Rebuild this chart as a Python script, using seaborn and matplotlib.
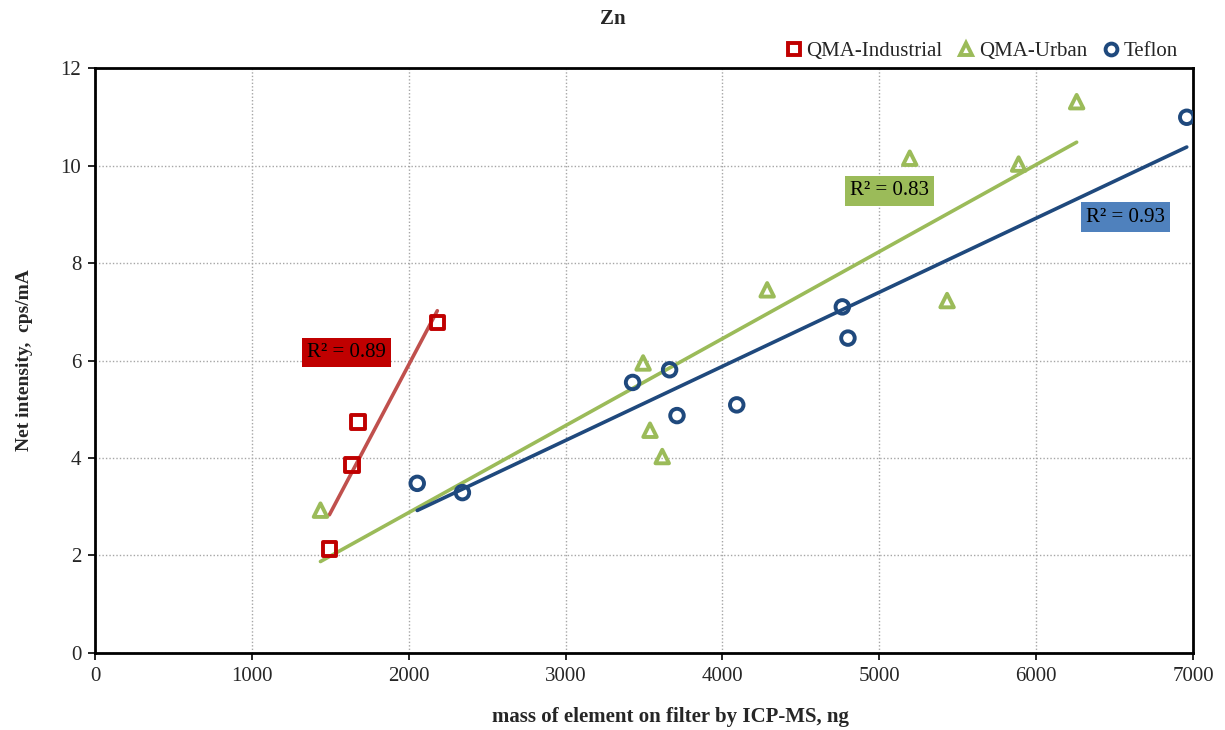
import numpy as np
import pandas as pd
import matplotlib
matplotlib.use("Agg")
import matplotlib.pyplot as plt
from matplotlib.lines import Line2D
import seaborn as sns

# Zn calibration: net intensity vs. mass measured by ICP-MS
ind_mass = [1494, 1639, 1675, 2182]
ind_int = [2.13, 3.86, 4.74, 6.78]

urb_mass = [1437, 3494, 3538, 3616, 4285, 5194, 5432, 5888, 6258]
urb_int = [2.93, 5.95, 4.57, 4.03, 7.45, 10.15, 7.23, 10.03, 11.31]

tef_mass = [2054, 2342, 3427, 3663, 3710, 4091, 4764, 4800, 6960]
tef_int = [3.48, 3.29, 5.55, 5.81, 4.87, 5.09, 7.10, 6.46, 10.99]

series_names = ["QMA-Industrial", "QMA-Urban", "Teflon"]

sns.set_theme(style="white")
plt.rcParams["font.family"] = ["Liberation Serif", "DejaVu Serif"]

fig = plt.figure(figsize=(12.25, 7.3), dpi=100)
ax = fig.add_axes([0.0776, 0.1055, 0.8963, 0.8013])

styles = [
    dict(x=ind_mass, y=ind_int, marker="s", mcol="#C00000", lcol="#C0504D",
         box="#C00000", lab=(1603, 6.17)),
    dict(x=urb_mass, y=urb_int, marker="^", mcol="#9BBB59", lcol="#9BBB59",
         box="#9BBB59", lab=(5064, 9.48)),
    dict(x=tef_mass, y=tef_int, marker="o", mcol="#1F497D", lcol="#1F497D",
         box="#4F81BD", lab=(6571, 8.94)),
]

handles = []
for name, st in zip(series_names, styles):
    df = pd.DataFrame({"mass": st["x"], "intensity": st["y"]})
    sns.regplot(data=df, x="mass", y="intensity", ax=ax, scatter=False, ci=None,
                truncate=True, color=st["lcol"], line_kws=dict(lw=2.6, zorder=2))
    sns.scatterplot(data=df, x="mass", y="intensity", ax=ax, marker=st["marker"],
                    s=95, facecolor="none", edgecolor=st["mcol"], linewidth=2.8,
                    zorder=3)
    r2 = np.corrcoef(df["mass"], df["intensity"])[0, 1] ** 2
    ax.text(st["lab"][0], st["lab"][1], f"R² = {r2:.2f}", ha="center", va="center",
            fontsize=15, color="black", zorder=4,
            bbox=dict(boxstyle="square,pad=0.25", fc=st["box"], ec="none"))
    handles.append(Line2D([], [], ls="none", marker=st["marker"], markersize=8.5,
                          markerfacecolor="none", markeredgecolor=st["mcol"],
                          markeredgewidth=2.8, label=name))

ax.set_xlim(0, 7000)
ax.set_ylim(0, 12)
ax.set_xticks(np.arange(0, 7001, 1000))
ax.set_yticks(np.arange(0, 13, 2))
ax.grid(True, color="#A6A6A6", linestyle=(0, (1, 1.5)), linewidth=1)
ax.set_axisbelow(True)
for sp in ax.spines.values():
    sp.set_visible(True)
    sp.set_color("black")
    sp.set_linewidth(2)
ax.tick_params(axis="both", which="major", direction="out", length=5, width=1.2,
               color="black", labelsize=15, pad=5, bottom=True, left=True)

ax.set_xlabel("mass of element on filter by ICP-MS, ng", fontsize=15,
              fontweight="bold")
ax.xaxis.set_label_coords(0.524, -0.093)
ax.set_ylabel("Net intensity,  cps/mA", fontsize=14, fontweight="bold", labelpad=20)
fig.suptitle("Zn", fontsize=15, fontweight="bold", y=0.988)

ax.legend(handles=handles, loc="lower right", bbox_to_anchor=(0.99, 1.005),
          ncol=3, frameon=False, fontsize=15, handletextpad=0.0,
          columnspacing=0.55, handlelength=1.2, borderaxespad=0.1,
          borderpad=0.1)

fig.savefig("out.png", dpi=100)
